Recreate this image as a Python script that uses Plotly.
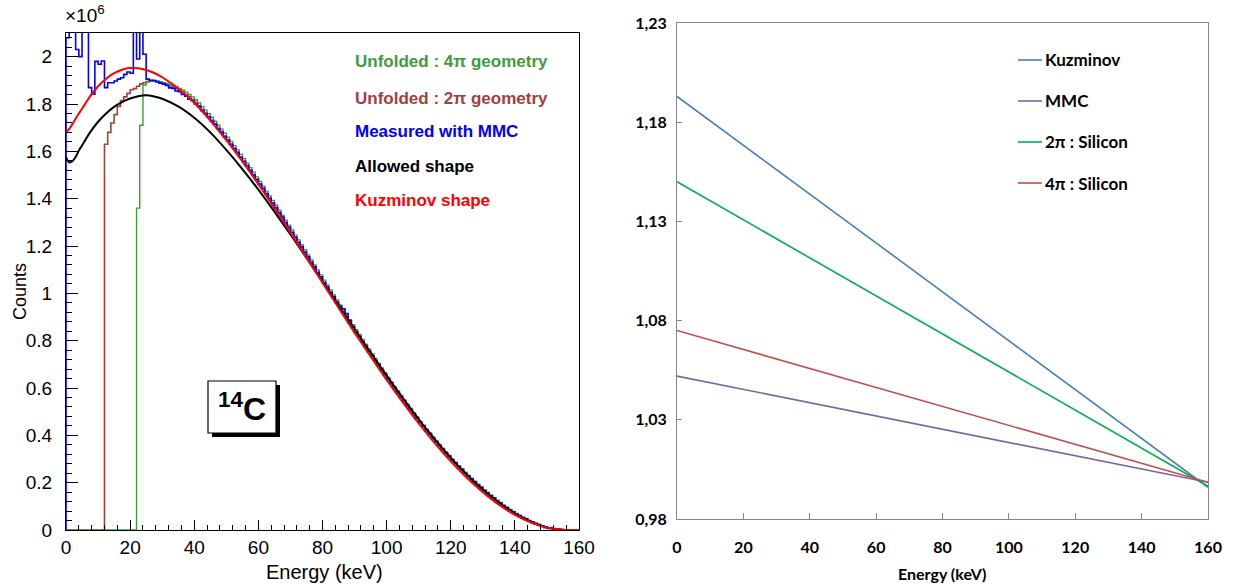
import plotly.graph_objects as go

# ---------------- Left panel data (counts in units of 1e6) ----------------
bin_edges = list(range(161))  # 1 keV bins, 0..160 keV

measured_mmc = [
    2.08, 2.5, 2.5, 2.03, 2.00, 2.5, 2.5, 1.869, 1.841, 1.980,
    1.968, 1.982, 1.869, 1.890, 1.890, 1.897, 1.905, 1.911, 1.925, 1.935,
    1.930, 2.5, 1.990, 2.5, 2.010, 1.905, 1.900, 1.898, 1.893, 1.888,
    1.885, 1.878, 1.868, 1.866, 1.855, 1.852, 1.840, 1.833, 1.820, 1.815,
    1.800, 1.790, 1.772, 1.760, 1.745, 1.728, 1.715, 1.695, 1.682, 1.662,
    1.648, 1.630, 1.612, 1.596, 1.575, 1.558, 1.540, 1.520, 1.500, 1.482,
    1.462, 1.444, 1.422, 1.402, 1.382, 1.362, 1.341, 1.322, 1.299, 1.280,
    1.258, 1.238, 1.216, 1.197, 1.174, 1.154, 1.131, 1.112, 1.089, 1.070,
    1.046, 1.027, 1.004, 0.985, 0.962, 0.945, 0.935, 0.915, 0.886, 0.860,
    0.836, 0.818, 0.795, 0.777, 0.755, 0.737, 0.715, 0.698, 0.676, 0.658,
    0.637, 0.620, 0.599, 0.582, 0.561, 0.545, 0.525, 0.509, 0.489, 0.473,
    0.454, 0.439, 0.420, 0.406, 0.387, 0.373, 0.356, 0.342, 0.325, 0.312,
    0.295, 0.283, 0.268, 0.256, 0.240, 0.229, 0.215, 0.204, 0.190, 0.180,
    0.166, 0.157, 0.144, 0.135, 0.122, 0.114, 0.102, 0.095, 0.084, 0.077,
    0.067, 0.061, 0.052, 0.047, 0.038, 0.034, 0.027, 0.023, 0.017, 0.014,
    0.009, 0.007, 0.004, 0.003, 0.001, 0.001, 0.0, 0.0, 0.0, 0.0,
]

unfolded_4pi = [
    0, 0, 0, 0, 0, 0, 0, 0, 0, 0,
    0, 0, 0, 0, 0, 0, 0, 0, 0, 0,
    0, 0, 1.36, 1.71, 1.88, 1.893, 1.897, 1.898, 1.897, 1.894,
    1.890, 1.887, 1.882, 1.878, 1.872, 1.866, 1.858, 1.850, 1.840, 1.830,
    1.818, 1.804, 1.789, 1.774, 1.759, 1.744, 1.727, 1.710, 1.694, 1.677,
    1.660, 1.642, 1.624, 1.606, 1.588, 1.569, 1.550, 1.531, 1.512, 1.492,
    1.473, 1.453, 1.432, 1.412, 1.392, 1.372, 1.351, 1.330, 1.309, 1.288,
    1.268, 1.247, 1.226, 1.205, 1.184, 1.162, 1.141, 1.120, 1.099, 1.078,
    1.056, 1.035, 1.014, 0.993, 0.972, 0.951, 0.930, 0.909, 0.888, 0.867,
    0.846, 0.826, 0.805, 0.785, 0.765, 0.745, 0.725, 0.705, 0.685, 0.665,
    0.645, 0.626, 0.607, 0.588, 0.569, 0.550, 0.532, 0.514, 0.496, 0.478,
    0.460, 0.443, 0.426, 0.410, 0.393, 0.377, 0.361, 0.345, 0.330, 0.315,
    0.300, 0.286, 0.272, 0.258, 0.244, 0.231, 0.219, 0.206, 0.194, 0.182,
    0.170, 0.159, 0.148, 0.137, 0.126, 0.116, 0.106, 0.096, 0.087, 0.078,
    0.070, 0.062, 0.055, 0.048, 0.041, 0.035, 0.029, 0.023, 0.018, 0.014,
    0.010, 0.007, 0.005, 0.003, 0.002, 0.001, 0.0, 0.0, 0.0, 0.0,
]

unfolded_2pi = [
    0, 0, 0, 0, 0, 0, 0, 0, 0, 0,
    0, 0, 1.63, 1.68, 1.72, 1.755, 1.79, 1.815, 1.83, 1.845,
    1.86, 1.865, 1.875, 1.885, 1.89, 1.895, 1.898, 1.900, 1.896, 1.891,
    1.886, 1.882, 1.876, 1.871, 1.865, 1.858, 1.849, 1.840, 1.830, 1.819,
    1.807, 1.792, 1.777, 1.762, 1.747, 1.732, 1.715, 1.698, 1.682, 1.665,
    1.648, 1.630, 1.612, 1.594, 1.576, 1.557, 1.538, 1.519, 1.500, 1.480,
    1.461, 1.441, 1.420, 1.400, 1.380, 1.360, 1.339, 1.318, 1.297, 1.276,
    1.256, 1.235, 1.214, 1.193, 1.172, 1.150, 1.129, 1.108, 1.087, 1.066,
    1.044, 1.023, 1.002, 0.981, 0.960, 0.939, 0.918, 0.897, 0.876, 0.855,
    0.834, 0.814, 0.793, 0.773, 0.753, 0.733, 0.713, 0.694, 0.674, 0.654,
    0.635, 0.616, 0.597, 0.578, 0.559, 0.541, 0.523, 0.505, 0.487, 0.469,
    0.452, 0.435, 0.418, 0.402, 0.385, 0.369, 0.354, 0.338, 0.323, 0.308,
    0.293, 0.279, 0.266, 0.252, 0.238, 0.225, 0.213, 0.200, 0.188, 0.176,
    0.164, 0.153, 0.142, 0.131, 0.120, 0.110, 0.100, 0.091, 0.082, 0.073,
    0.065, 0.057, 0.050, 0.043, 0.036, 0.030, 0.024, 0.019, 0.014, 0.010,
    0.007, 0.005, 0.003, 0.002, 0.001, 0.0, 0.0, 0.0, 0.0, 0.0,
]

curve_energy = [0, 1, 2, 3, 4, 5, 7.5, 10, 12.5, 15, 17.5, 20, 22.5, 25, 27.5, 30,
                35, 40, 45, 50, 55, 60, 65, 70, 75, 80, 85, 90, 95, 100, 105, 110,
                115, 120, 125, 130, 135, 140, 145, 150, 155, 156.5, 160]
allowed_shape = [1.575, 1.553, 1.558, 1.576, 1.603, 1.625, 1.680, 1.725, 1.760, 1.788,
                 1.808, 1.823, 1.833, 1.837, 1.832, 1.822,
                 1.790, 1.742, 1.680, 1.606, 1.525, 1.438, 1.345, 1.249, 1.150, 1.050,
                 0.949, 0.848, 0.749, 0.652, 0.558, 0.468, 0.384, 0.305, 0.234, 0.170,
                 0.115, 0.069, 0.034, 0.011, 0.001, 0.0, 0.0]
kuzminov_shape = [1.681, 1.695, 1.715, 1.738, 1.760, 1.780, 1.832, 1.875, 1.907, 1.930,
                  1.945, 1.952, 1.951, 1.944, 1.931, 1.913,
                  1.865, 1.805, 1.730, 1.647, 1.557, 1.461, 1.360, 1.256, 1.151, 1.045,
                  0.939, 0.834, 0.733, 0.634, 0.540, 0.450, 0.367, 0.290, 0.221, 0.160,
                  0.107, 0.064, 0.032, 0.010, 0.001, 0.0, 0.0]

left_x_ticks = [0, 20, 40, 60, 80, 100, 120, 140, 160]
left_y_ticks = [0, 0.2, 0.4, 0.6, 0.8, 1.0, 1.2, 1.4, 1.6, 1.8, 2.0]
left_y_ticktext = ["0", "0.2", "0.4", "0.6", "0.8", "1", "1.2", "1.4", "1.6", "1.8", "2"]

left_labels = ["Unfolded : 4\u03c0 geometry", "Unfolded : 2\u03c0 geometry",
               "Measured with MMC", "Allowed shape", "Kuzminov shape"]

# ---------------- Right panel data (shape factors) ----------------
right_energy = [0, 160]
right_names = ["Kuzminov", "MMC", "2\u03c0 : Silicon", "4\u03c0 : Silicon"]
kuzminov_factor = [1.193, 0.996]
mmc_factor = [1.052, 0.9985]
si2pi_factor = [1.150, 0.9965]
si4pi_factor = [1.075, 0.9985]
right_x_ticks = [0, 20, 40, 60, 80, 100, 120, 140, 160]
right_y_ticks = [0.98, 1.03, 1.08, 1.13, 1.18, 1.23]
right_y_ticktext = ["0,98", "1,03", "1,08", "1,13", "1,18", "1,23"]

# ---------------- Styles ----------------
W, H = 1237, 584
def fx(px):
    return px / W
def fy(py):
    return 1 - py / H

C_GREEN = "#3d9b3d"
C_BROWN = "#a3403f"
C_BLUE = "#0000ff"
C_BLACK = "#000000"
C_RED = "#ff0000"
left_colors = [C_GREEN, C_BROWN, C_BLUE, C_BLACK, C_RED]
right_colors = ["#4a7ebb", "#8064a2", "#00b050", "#c0504d"]

ROOT_FONT = "Liberation Sans, Arial, sans-serif"
XL_FONT = "Lato, Open Sans, sans-serif"

fig = go.Figure()

def step_trace(vals, color, width):
    xs = [bin_edges[0]] + bin_edges
    ys = [0] + vals + [vals[-1]]
    return go.Scatter(x=xs, y=ys, mode="lines", line=dict(color=color, width=width, shape="hv"),
                      xaxis="x", yaxis="y", hoverinfo="skip")

fig.add_trace(step_trace(unfolded_2pi, C_BROWN, 1.6))
fig.add_trace(step_trace(unfolded_4pi, C_GREEN, 1.4))
fig.add_trace(step_trace(measured_mmc, C_BLUE, 1.6))
fig.add_trace(go.Scatter(x=curve_energy, y=allowed_shape, mode="lines",
                         line=dict(color=C_BLACK, width=2, shape="spline", smoothing=0.8),
                         xaxis="x", yaxis="y"))
fig.add_trace(go.Scatter(x=curve_energy, y=kuzminov_shape, mode="lines",
                         line=dict(color=C_RED, width=2, shape="spline", smoothing=0.8),
                         xaxis="x", yaxis="y"))

for vals, col in zip([kuzminov_factor, mmc_factor, si2pi_factor, si4pi_factor], right_colors):
    fig.add_trace(go.Scatter(x=right_energy, y=vals, mode="lines",
                             line=dict(color=col, width=1.6), xaxis="x2", yaxis="y2"))

annotations = []
# left legend (text only, coloured)
leg_y = [62, 98, 131, 166, 200]
for txt, col, yy in zip(left_labels, left_colors, leg_y):
    annotations.append(dict(x=fx(353), y=fy(yy), xref="paper", yref="paper", text=f"<b>{txt}</b>",
                            showarrow=False, xanchor="left", yanchor="middle",
                            font=dict(family=ROOT_FONT, size=17, color=col)))
# x10^6
annotations.append(dict(x=fx(63), y=fy(14), xref="paper", yref="paper", text="\u00d710<sup>6</sup>",
                        showarrow=False, xanchor="left", yanchor="middle",
                        font=dict(family=ROOT_FONT, size=19, color="black")))
# axis titles left
annotations.append(dict(x=fx(20), y=fy(292), xref="paper", yref="paper", text="Counts", textangle=-90,
                        showarrow=False, xanchor="center", yanchor="middle",
                        font=dict(family=ROOT_FONT, size=18, color="black")))
annotations.append(dict(x=fx(324), y=fy(572), xref="paper", yref="paper", text="Energy (keV)",
                        showarrow=False, xanchor="center", yanchor="middle",
                        font=dict(family=ROOT_FONT, size=20, color="black")))
# 14C label
annotations.append(dict(x=fx(242), y=fy(407), xref="paper", yref="paper",
                        text="<b><sup>14</sup>C</b>", showarrow=False, xanchor="center", yanchor="middle",
                        font=dict(family=ROOT_FONT, size=32, color="black")))
# right legend
rleg_y = [60, 101, 142, 183]
shapes = []
for name, col, yy in zip(right_names, right_colors, rleg_y):
    shapes.append(dict(type="line", xref="paper", yref="paper", x0=fx(1018), x1=fx(1042),
                       y0=fy(yy), y1=fy(yy), line=dict(color=col, width=1.6)))
    annotations.append(dict(x=fx(1043), y=fy(yy), xref="paper", yref="paper", text=f"<b>{name}</b>",
                            showarrow=False, xanchor="left", yanchor="middle",
                            font=dict(family=XL_FONT, size=17, color="black")))
annotations.append(dict(x=fx(942), y=fy(573), xref="paper", yref="paper", text="<b>Energy (keV)</b>",
                        showarrow=False, xanchor="center", yanchor="middle",
                        font=dict(family=XL_FONT, size=16, color="black")))

# 14C box with shadow
shapes.append(dict(type="rect", xref="paper", yref="paper", x0=fx(212), x1=fx(280), y0=fy(437), y1=fy(385),
                   fillcolor="black", line=dict(width=0), layer="above"))
shapes.append(dict(type="rect", xref="paper", yref="paper", x0=fx(208), x1=fx(276), y0=fy(433), y1=fy(381),
                   fillcolor="white", line=dict(color="black", width=1.2), layer="above"))

fig.update_layout(
    width=W, height=H, margin=dict(l=0, r=0, t=0, b=0, pad=0, autoexpand=False),
    paper_bgcolor="white", plot_bgcolor="white", showlegend=False,
    xaxis=dict(domain=[fx(66), fx(579)], range=[0, 160], anchor="y", automargin=False,
               showline=True, linecolor="black", linewidth=1.2, mirror=True,
               ticks="inside", ticklen=10, tickwidth=1, tickcolor="black",
               tickvals=left_x_ticks, ticktext=[str(v) for v in left_x_ticks],
               tickfont=dict(family=ROOT_FONT, size=19, color="black"), ticklabelstandoff=0,
               minor=dict(ticks="inside", ticklen=5, dtick=4, tick0=0, tickcolor="black", showgrid=False),
               showgrid=False, zeroline=False),
    yaxis=dict(domain=[fy(530), fy(33)], range=[0, 2.1], anchor="x", automargin=False,
               showline=True, linecolor="black", linewidth=1.2, mirror=True,
               ticks="inside", ticklen=12, tickwidth=1, tickcolor="black",
               tickvals=left_y_ticks, ticktext=left_y_ticktext,
               tickfont=dict(family=ROOT_FONT, size=19, color="black"), ticklabelstandoff=9,
               minor=dict(ticks="inside", ticklen=6, dtick=0.04, tick0=0, tickcolor="black", showgrid=False),
               showgrid=False, zeroline=False),
    xaxis2=dict(domain=[fx(677), fx(1208)], range=[0, 160], anchor="y2", automargin=False,
                showline=True, linecolor="#868686", linewidth=1, mirror=True,
                ticks="inside", ticklen=6, tickcolor="#868686",
                tickvals=right_x_ticks, ticktext=[f"<b>{v}</b>" for v in right_x_ticks],
                tickfont=dict(family=XL_FONT, size=16, color="black"), ticklabelstandoff=14,
                showgrid=False, zeroline=False),
    yaxis2=dict(domain=[fy(519), fy(23)], range=[0.98, 1.23], anchor="x2", automargin=False,
                showline=True, linecolor="#868686", linewidth=1, mirror=True,
                ticks="inside", ticklen=5, tickcolor="#868686",
                tickvals=right_y_ticks, ticktext=[f"<b>{t}</b>" for t in right_y_ticktext],
                tickfont=dict(family=XL_FONT, size=16, color="black"), ticklabelstandoff=6,
                showgrid=False, zeroline=False),
    annotations=annotations, shapes=shapes,
)

fig.write_html("out.html", config={"displayModeBar": False},
               post_script="document.body.style.margin='0px';document.body.style.overflow='hidden';")
